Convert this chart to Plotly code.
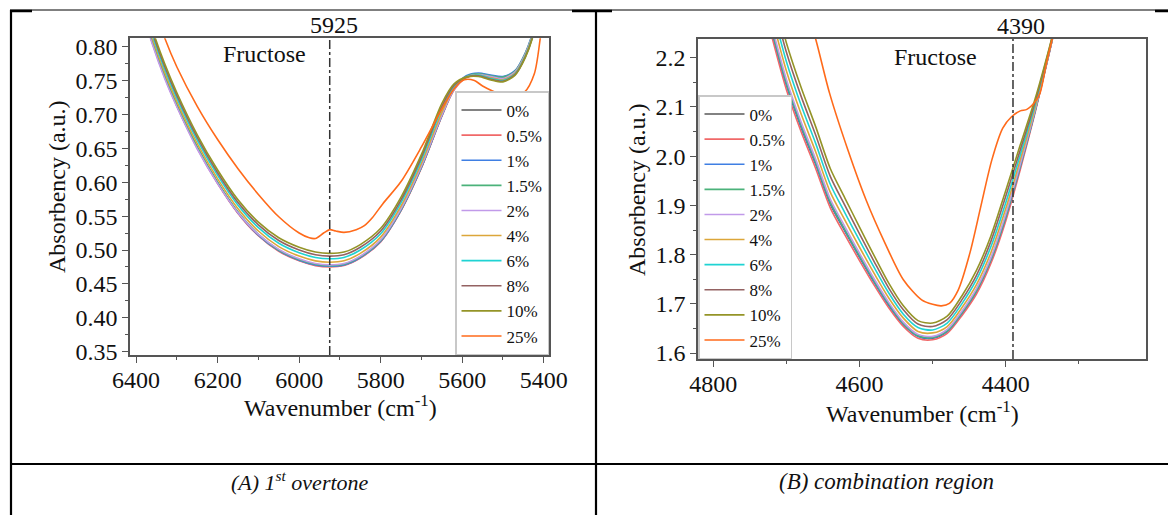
import plotly.graph_objects as go

W, H = 1168, 515

def px(x):
    return x / W

def py(y):
    return 1 - y / H

SERIES = ["0%", "0.5%", "1%", "1.5%", "2%", "4%", "6%", "8%", "10%", "25%"]
COLORS = ["#585858", "#f06868", "#3f7fe3", "#4bb27a", "#c19ae9", "#dca63a",
          "#1fd3d3", "#946262", "#949427", "#ff6a1a"]

# ---------- Panel A : 1st overtone ----------
X_A = [6385, 6360, 6330, 6300, 6250, 6200, 6150, 6100, 6050, 6000, 5960, 5925, 5890,
       5850, 5800, 5750, 5700, 5650, 5620, 5590, 5560, 5530, 5500, 5470, 5445, 5425, 5405]
A_0 = [0.856, 0.806, 0.756, 0.713, 0.651, 0.599, 0.555, 0.522, 0.499, 0.485, 0.478, 0.476, 0.478,
       0.489, 0.513, 0.559, 0.622, 0.698, 0.737, 0.755, 0.760, 0.757, 0.754, 0.763, 0.789, 0.822, 0.880]
A_05 = [0.855, 0.805, 0.755, 0.712, 0.650, 0.598, 0.554, 0.521, 0.498, 0.484, 0.477, 0.475, 0.477,
        0.488, 0.512, 0.558, 0.621, 0.697, 0.736, 0.754, 0.758, 0.755, 0.752, 0.762, 0.788, 0.822, 0.880]
A_1 = [0.856, 0.806, 0.756, 0.713, 0.651, 0.599, 0.555, 0.522, 0.499, 0.485, 0.478, 0.476, 0.478,
       0.489, 0.513, 0.559, 0.622, 0.698, 0.738, 0.757, 0.761, 0.758, 0.756, 0.765, 0.791, 0.825, 0.882]
A_15 = [0.857, 0.807, 0.757, 0.714, 0.652, 0.600, 0.556, 0.523, 0.500, 0.486, 0.479, 0.477, 0.479,
        0.490, 0.514, 0.560, 0.623, 0.699, 0.738, 0.756, 0.760, 0.757, 0.755, 0.764, 0.790, 0.824, 0.881]
A_2 = [0.853, 0.803, 0.753, 0.711, 0.649, 0.598, 0.555, 0.523, 0.501, 0.487, 0.480, 0.478, 0.480,
       0.491, 0.515, 0.561, 0.624, 0.699, 0.737, 0.755, 0.759, 0.756, 0.753, 0.763, 0.789, 0.823, 0.880]
A_4 = [0.862, 0.812, 0.762, 0.719, 0.657, 0.605, 0.561, 0.528, 0.505, 0.491, 0.484, 0.482, 0.484,
       0.495, 0.519, 0.565, 0.628, 0.703, 0.739, 0.755, 0.758, 0.754, 0.751, 0.761, 0.787, 0.821, 0.879]
A_6 = [0.867, 0.817, 0.767, 0.724, 0.662, 0.610, 0.566, 0.533, 0.510, 0.496, 0.489, 0.487, 0.489,
       0.500, 0.524, 0.570, 0.633, 0.708, 0.741, 0.755, 0.758, 0.753, 0.750, 0.760, 0.786, 0.820, 0.878]
A_8 = [0.871, 0.821, 0.771, 0.728, 0.666, 0.614, 0.570, 0.537, 0.514, 0.500, 0.493, 0.491, 0.493,
       0.504, 0.528, 0.574, 0.637, 0.712, 0.743, 0.755, 0.757, 0.752, 0.749, 0.759, 0.785, 0.819, 0.878]
A_10 = [0.875, 0.825, 0.775, 0.732, 0.670, 0.618, 0.574, 0.541, 0.518, 0.504, 0.497, 0.495, 0.497,
        0.508, 0.532, 0.578, 0.641, 0.716, 0.745, 0.755, 0.756, 0.751, 0.748, 0.758, 0.784, 0.818, 0.877]
X_A25 = [6345, 6330, 6300, 6250, 6200, 6150, 6100, 6050, 6000, 5975, 5960, 5940, 5925, 5910, 5890,
         5860, 5840, 5820, 5795, 5750, 5700, 5650, 5620, 5595, 5570, 5550, 5510, 5475, 5447, 5423,
         5409, 5400]
A_25 = [0.840, 0.813, 0.770, 0.712, 0.663, 0.620, 0.582, 0.549, 0.525, 0.518, 0.517, 0.525, 0.530,
        0.528, 0.526, 0.530, 0.536, 0.548, 0.568, 0.601, 0.652, 0.708, 0.738, 0.751, 0.750, 0.742,
        0.731, 0.727, 0.733, 0.760, 0.810, 0.860]

# ---------- Panel B : combination region ----------
X_B = [4740, 4720, 4700, 4680, 4660, 4640, 4620, 4600, 4580, 4560, 4540, 4520, 4500, 4480,
       4460, 4440, 4420, 4400, 4380, 4360, 4340, 4325]
B_0 = [2.370, 2.253, 2.145, 2.059, 1.984, 1.903, 1.848, 1.795, 1.744, 1.697, 1.658, 1.634, 1.630,
       1.644, 1.680, 1.725, 1.789, 1.874, 1.978, 2.090, 2.213, 2.310]
B_05 = [2.360, 2.243, 2.135, 2.050, 1.975, 1.895, 1.840, 1.788, 1.738, 1.692, 1.654, 1.630, 1.627,
        1.640, 1.676, 1.720, 1.783, 1.868, 1.973, 2.087, 2.212, 2.310]
B_1 = [2.372, 2.255, 2.146, 2.061, 1.985, 1.905, 1.849, 1.796, 1.745, 1.698, 1.659, 1.634, 1.631,
       1.644, 1.681, 1.726, 1.790, 1.875, 1.979, 2.090, 2.213, 2.310]
B_15 = [2.375, 2.258, 2.149, 2.064, 1.988, 1.907, 1.851, 1.798, 1.747, 1.700, 1.660, 1.635, 1.632,
        1.645, 1.682, 1.727, 1.791, 1.877, 1.981, 2.091, 2.214, 2.310]
B_2 = [2.382, 2.265, 2.156, 2.070, 1.994, 1.913, 1.857, 1.803, 1.751, 1.703, 1.663, 1.638, 1.634,
       1.648, 1.685, 1.731, 1.795, 1.882, 1.984, 2.093, 2.214, 2.310]
B_4 = [2.400, 2.283, 2.173, 2.086, 2.009, 1.927, 1.870, 1.815, 1.762, 1.712, 1.671, 1.644, 1.641,
       1.654, 1.692, 1.739, 1.805, 1.893, 1.993, 2.098, 2.216, 2.310]
B_6 = [2.420, 2.303, 2.192, 2.104, 2.026, 1.943, 1.885, 1.829, 1.774, 1.722, 1.679, 1.652, 1.647,
       1.661, 1.700, 1.749, 1.817, 1.905, 2.003, 2.104, 2.218, 2.310]
B_8 = [2.440, 2.323, 2.211, 2.122, 2.043, 1.959, 1.900, 1.842, 1.786, 1.732, 1.688, 1.659, 1.654,
       1.668, 1.708, 1.758, 1.828, 1.918, 2.013, 2.109, 2.220, 2.310]
B_10 = [2.460, 2.343, 2.230, 2.140, 2.060, 1.975, 1.915, 1.856, 1.798, 1.742, 1.696, 1.666, 1.661,
        1.675, 1.716, 1.768, 1.839, 1.930, 2.023, 2.115, 2.222, 2.310]
X_B25 = [4675, 4660, 4641, 4616, 4591, 4565, 4540, 4515, 4500, 4488, 4477, 4465, 4449, 4434, 4419,
         4404, 4392, 4380, 4371, 4360, 4353, 4344, 4336, 4325]
B_25 = [2.310, 2.238, 2.128, 2.013, 1.911, 1.823, 1.749, 1.708, 1.699, 1.696, 1.701, 1.728, 1.803,
        1.898, 1.992, 2.057, 2.080, 2.092, 2.095, 2.110, 2.128, 2.190, 2.240, 2.310]

MARK_A = 5925
MARK_B = 4390

A_SETS = [(X_A, A_0), (X_A, A_05), (X_A, A_1), (X_A, A_15), (X_A, A_2), (X_A, A_4),
          (X_A, A_6), (X_A, A_8), (X_A, A_10), (X_A25, A_25)]
B_SETS = [(X_B, B_0), (X_B, B_05), (X_B, B_1), (X_B, B_15), (X_B, B_2), (X_B, B_4),
          (X_B, B_6), (X_B, B_8), (X_B, B_10), (X_B25, B_25)]

FONT = "Liberation Serif, Times New Roman, serif"

fig = go.Figure()
for name, col, (xs, ys) in zip(SERIES, COLORS, A_SETS):
    fig.add_trace(go.Scatter(x=xs, y=ys, name=name, mode="lines",
                             line=dict(color=col, width=1.6, shape="spline", smoothing=0.8),
                             xaxis="x", yaxis="y", legend="legend"))
for name, col, (xs, ys) in zip(SERIES, COLORS, B_SETS):
    fig.add_trace(go.Scatter(x=xs, y=ys, name=name, mode="lines",
                             line=dict(color=col, width=1.6, shape="spline", smoothing=0.8),
                             xaxis="x2", yaxis="y2", legend="legend2"))

axis_common = dict(showline=True, linecolor="#555555", linewidth=1.5, mirror=True,
                   ticks="outside", ticklen=6, tickwidth=1.2, tickcolor="#555555",
                   showgrid=False, zeroline=False, automargin=False,
                   tickfont=dict(family=FONT, size=24, color="#111111"))

fig.update_layout(
    template="none",
    width=W, height=H, autosize=False,
    margin=dict(l=0, r=0, t=0, b=0, pad=0, autoexpand=False),
    paper_bgcolor="white", plot_bgcolor="white",
    font=dict(family=FONT, color="#111111"),
    xaxis=dict(domain=[px(130), px(549)], range=[6415, 5387], anchor="y",
               tickvals=[6400, 6200, 6000, 5800, 5600, 5400], ticklabelstandoff=-4,
               minor=dict(tickvals=[6300, 6100, 5900, 5700, 5500], ticklen=3,
                          tickcolor="#555555", ticks="outside"),
               **axis_common),
    yaxis=dict(domain=[py(355), py(38.3)], range=[0.3451, 0.8123], anchor="x",
               tickvals=[0.35, 0.40, 0.45, 0.50, 0.55, 0.60, 0.65, 0.70, 0.75, 0.80],
               tickformat=".2f",
               minor=dict(dtick=0.025, tick0=0.35, ticklen=3, tickcolor="#555555",
                          ticks="outside"),
               **axis_common),
    xaxis2=dict(domain=[px(698), px(1146)], range=[4821, 4208], anchor="y2",
                tickvals=[4800, 4600, 4400], ticklabelstandoff=-4,
                minor=dict(tickvals=[4700, 4500, 4300], ticklen=3,
                           tickcolor="#555555", ticks="outside"),
                **axis_common),
    yaxis2=dict(domain=[py(359), py(39)], range=[1.588, 2.238], anchor="x2",
                tickvals=[1.6, 1.7, 1.8, 1.9, 2.0, 2.1, 2.2], tickformat=".1f",
                minor=dict(dtick=0.05, tick0=1.6, ticklen=3, tickcolor="#555555",
                           ticks="outside"),
                **axis_common),
    legend=dict(x=px(549), xanchor="right", y=py(355), yanchor="bottom",
                bgcolor="white", bordercolor="#c8c8c8", borderwidth=1.5,
                font=dict(family=FONT, size=17, color="#111111"),
                tracegroupgap=0, itemwidth=40),
    legend2=dict(x=px(698), xanchor="left", y=py(359), yanchor="bottom",
                 bgcolor="white", bordercolor="#c8c8c8", borderwidth=1.5,
                 font=dict(family=FONT, size=17, color="#111111"),
                 tracegroupgap=0, itemwidth=40),
    showlegend=True,
)

shapes = [
    dict(type="line", xref="x", yref="y domain", x0=MARK_A, x1=MARK_A, y0=0, y1=1,
         line=dict(color="#333333", width=1.5, dash="dashdot")),
    dict(type="line", xref="x2", yref="y2 domain", x0=MARK_B, x1=MARK_B, y0=0, y1=1,
         line=dict(color="#333333", width=1.5, dash="dashdot")),
]
# table frame
tbl = [
    (10, 10, 1168, 10, 1), (10, 11, 32, 11, 2.5), (572, 11, 612, 11, 2.5), (1155, 11, 1168, 11, 2.5),
    (11, 10, 11, 515, 2.2), (596, 10, 596, 515, 2.2), (10, 464, 1168, 464, 2.2),
]
for x0, y0, x1, y1, w in tbl:
    shapes.append(dict(type="line", xref="paper", yref="paper",
                       x0=px(x0), x1=px(x1), y0=py(y0), y1=py(y1),
                       line=dict(color="black", width=w)))
fig.update_layout(shapes=shapes)

ann = [
    dict(text="5925", x=px(334), y=py(25), size=24),
    dict(text="4390", x=px(1021), y=py(26), size=24),
    dict(text="Fructose", x=px(264), y=py(54), size=24),
    dict(text="Fructose", x=px(935), y=py(57), size=24),
    dict(text="Wavenumber (cm<sup>-1</sup>)", x=px(340), y=py(406), size=24),
    dict(text="Wavenumber (cm<sup>-1</sup>)", x=px(922), y=py(412), size=24),
    dict(text="<i>(A) 1<sup>st</sup> overtone</i>", x=px(300), y=py(481), size=22),
    dict(text="<i>(B) combination region</i>", x=px(886), y=py(481), size=23),
]
annotations = []
for a in ann:
    annotations.append(dict(text=a["text"], x=a["x"], y=a["y"], xref="paper", yref="paper",
                            xanchor="center", yanchor="middle", showarrow=False,
                            font=dict(family=FONT, size=a["size"], color="#111111")))
for xx, yy in [(57, 187), (637, 190)]:
    annotations.append(dict(text="Absorbency (a.u.)", x=px(xx), y=py(yy), xref="paper",
                            yref="paper", xanchor="center", yanchor="middle", textangle=-90,
                            showarrow=False, font=dict(family=FONT, size=24, color="#111111")))
fig.update_layout(annotations=annotations)

fig.write_html("out.html", config={"displayModeBar": False},
               post_script="document.body.style.margin='0px';document.body.style.overflow='hidden';")
